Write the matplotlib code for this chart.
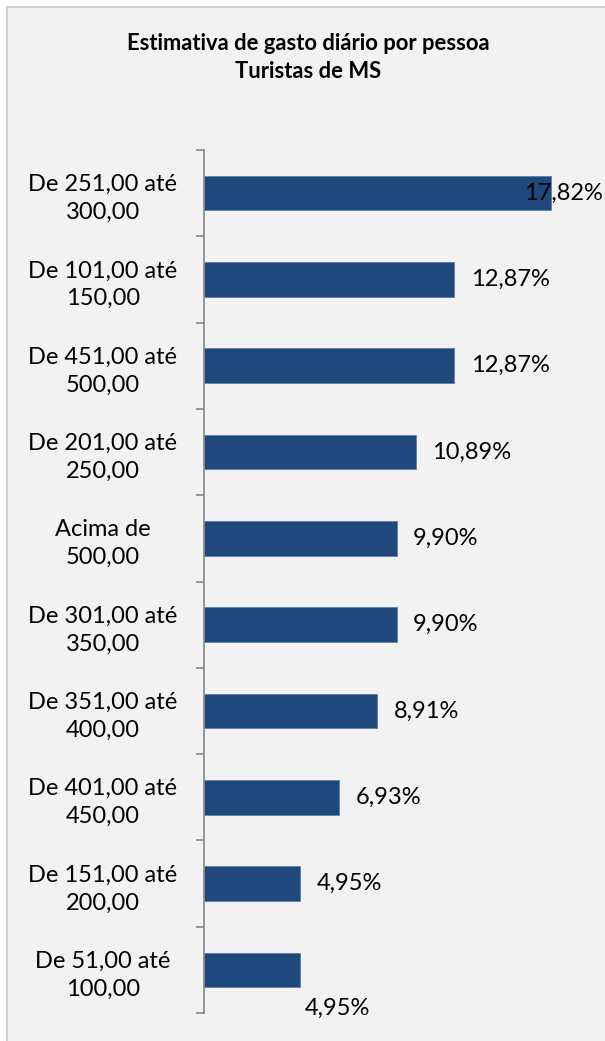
import matplotlib
matplotlib.use("Agg")
import matplotlib.pyplot as plt
from matplotlib.patches import Rectangle

# Dados (de cima para baixo)
faixas = ["De 251,00 até\n300,00", "De 101,00 até\n150,00", "De 451,00 até\n500,00",
          "De 201,00 até\n250,00", "Acima de\n500,00", "De 301,00 até\n350,00",
          "De 351,00 até\n400,00", "De 401,00 até\n450,00", "De 151,00 até\n200,00",
          "De 51,00 até\n100,00"]
percentuais = [17.82, 12.87, 12.87, 10.89, 9.90, 9.90, 8.91, 6.93, 4.95, 4.95]
rotulos = ["17,82%", "12,87%", "12,87%", "10,89%", "9,90%", "9,90%",
           "8,91%", "6,93%", "4,95%", "4,95%"]

plt.rcParams['font.family'] = ['Lato', 'DejaVu Sans']

fig = plt.figure(figsize=(6.05, 10.41), dpi=100)
fig.patch.set_facecolor('white')

# moldura do gráfico
W, H = 605, 1041
fig.patches.append(Rectangle((7 / W, -0.01), 1.0, (H - 7) / H + 0.01,
                             transform=fig.transFigure, facecolor='#F2F2F2',
                             edgecolor='#D0D0D0', linewidth=1.5, zorder=-5))

ax = fig.add_axes([204 / W, 1 - 1013 / H, (593 - 204) / W, (1013 - 150) / H])
ax.set_zorder(5)
ax.set_facecolor('none')

y = list(range(len(faixas)))
ax.barh(y, percentuais, height=0.4, color='#1F497D', edgecolor='#5B7FAF', linewidth=0.6)

ax.set_xlim(0, 20)
ax.set_ylim(len(faixas) - 0.5, -0.5)

for s in ['top', 'right', 'bottom']:
    ax.spines[s].set_visible(False)
ax.spines['left'].set_color('#868686')
ax.spines['left'].set_linewidth(1.2)
ax.set_xticks([])

ax.set_yticks(y)
ax.set_yticklabels(faixas, fontsize=17, ha='center', linespacing=1.4)
ax.tick_params(axis='y', which='major', length=0, pad=73)
ax.set_yticks([i - 0.5 for i in range(len(faixas) + 1)], minor=True)
ax.tick_params(axis='y', which='minor', length=6, width=1.2, color='#868686')

# posição dos rótulos (deslocamentos em pontos)
desloc = {0: (-19.5, 0), len(faixas) - 1: (3, -28)}
for i, (v, t) in enumerate(zip(percentuais, rotulos)):
    dx, dy = desloc.get(i, (12, 0))
    ax.annotate(t, (v, i), xytext=(dx, dy), textcoords='offset points',
                ha='left', va='center', fontsize=17, color='black')

fig.text(308 / W, 1 - 44 / H, "Estimativa de gasto diário por pessoa",
         ha='center', va='center', fontsize=15.8, fontweight='bold')
fig.text(308 / W, 1 - 72 / H, "Turistas de MS",
         ha='center', va='center', fontsize=15.8, fontweight='bold')

fig.savefig("out.png", dpi=100, facecolor=fig.get_facecolor())
